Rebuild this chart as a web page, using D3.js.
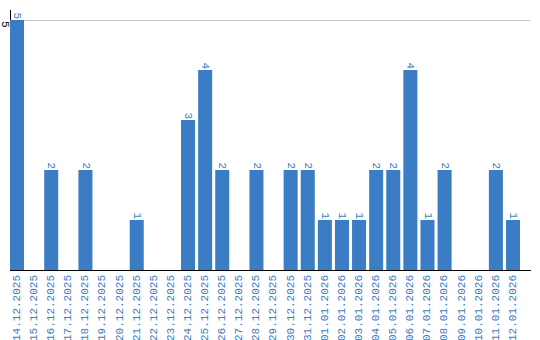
<!DOCTYPE html>
<html>
<head>
<meta charset="utf-8">
<script src="https://cdn.jsdelivr.net/npm/d3@7"></script>
<style>
  body { margin: 0; background: #fff; }
  svg { display: block; font-family: "Liberation Mono", monospace; }
</style>
</head>
<body>
<svg width="540" height="340"></svg>
<script>
const dates = ["14.12.2025", "15.12.2025", "16.12.2025", "17.12.2025", "18.12.2025", "19.12.2025",
    "20.12.2025", "21.12.2025", "22.12.2025", "23.12.2025", "24.12.2025", "25.12.2025",
    "26.12.2025", "27.12.2025", "28.12.2025", "29.12.2025", "30.12.2025", "31.12.2025",
    "01.01.2026", "02.01.2026", "03.01.2026", "04.01.2026", "05.01.2026", "06.01.2026",
    "07.01.2026", "08.01.2026", "09.01.2026", "10.01.2026", "11.01.2026", "12.01.2026"];
const counts = [5, 0, 2, 0, 2, 0, 0, 1, 0, 0, 3, 4, 2, 0, 2, 0, 2, 2, 1, 1, 1, 2, 2, 4, 1, 2, 0, 0, 2, 1];
const yTicks = [5];

const barColor = "#3b7dc4";
const plot = { left: 10, right: 520, top: 20, bottom: 270 };

const svg = d3.select("svg");

const x = d3.scaleBand()
    .domain(dates)
    .range([plot.left, plot.right])
    .paddingInner(0.18)
    .paddingOuter(0);

const y = d3.scaleLinear()
    .domain([0, 5])
    .range([plot.bottom, plot.top]);

// grid line
svg.append("g")
    .selectAll("line")
    .data(yTicks)
    .join("line")
    .attr("x1", plot.left).attr("x2", 530)
    .attr("y1", d => y(d) + 0.5).attr("y2", d => y(d) + 0.5)
    .attr("stroke", "#c8c8c8");

// y axis line
svg.append("line")
    .attr("x1", plot.left + 0.5).attr("x2", plot.left + 0.5)
    .attr("y1", 10).attr("y2", plot.bottom)
    .attr("stroke", "#000");

// y tick labels
svg.append("g")
    .selectAll("text")
    .data(yTicks)
    .join("text")
    .attr("transform", d => `translate(5,${y(d) + 1}) rotate(90)`)
    .attr("text-anchor", "start")
    .attr("dominant-baseline", "middle")
    .attr("font-size", 11)
    .attr("fill", "#000")
    .text(d => d);

// bars
const data = dates.map((d, i) => ({ date: d, value: counts[i] }));

svg.append("g")
    .selectAll("rect")
    .data(data.filter(d => d.value > 0))
    .join("rect")
    .attr("x", d => x(d.date))
    .attr("y", d => y(d.value))
    .attr("width", x.bandwidth())
    .attr("height", d => y(0) - y(d.value))
    .attr("fill", barColor);

// value labels
svg.append("g")
    .selectAll("text")
    .data(data.filter(d => d.value > 0))
    .join("text")
    .attr("transform", d => `translate(${x(d.date) + x.bandwidth() / 2},${y(d.value) - 1}) rotate(90)`)
    .attr("text-anchor", "end")
    .attr("dominant-baseline", "middle")
    .attr("font-size", 11)
    .attr("fill", barColor)
    .text(d => d.value);

// x axis line
svg.append("line")
    .attr("x1", plot.left).attr("x2", 531)
    .attr("y1", plot.bottom + 0.5).attr("y2", plot.bottom + 0.5)
    .attr("stroke", "#000");

// x tick labels
svg.append("g")
    .selectAll("text")
    .data(dates)
    .join("text")
    .attr("transform", d => `translate(${x(d) + x.bandwidth() / 2},${plot.bottom + 5}) rotate(-90)`)
    .attr("text-anchor", "end")
    .attr("dominant-baseline", "middle")
    .attr("font-size", 11)
    .attr("fill", barColor)
    .text(d => d);
</script>
</body>
</html>
